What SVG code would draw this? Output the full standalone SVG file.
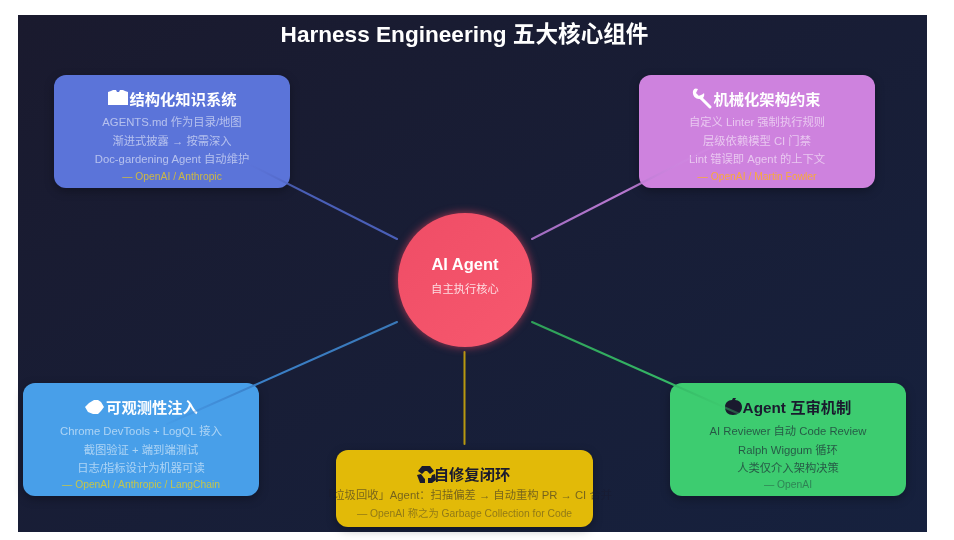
<svg xmlns="http://www.w3.org/2000/svg" width="954" height="540" viewBox="0 0 954 540">
<style>
text{font-family:"Liberation Sans","Noto Sans CJK SC",sans-serif;text-anchor:middle}
.h{font-size:15.300px;font-weight:700;fill:#fff}
.b{font-size:11.300px;fill:#fff;fill-opacity:.55}
.s{font-size:10.300px;fill:#ffd700;fill-opacity:.68}
.hd{font-size:15.300px;font-weight:700;fill:#1a1a2e}
.bd{font-size:11.300px;fill:#1a1a2e;fill-opacity:.65}
.sd{font-size:10.300px;fill:#1a1a2e;fill-opacity:.42}
.card{filter:url(#sh)}
.l{fill:none;stroke-width:2;stroke-linecap:round}
</style>
<defs>
<linearGradient id="bg" x1="0" y1="0" x2="1" y2="1"><stop offset="0" stop-color="#1a1a2e"/><stop offset="1" stop-color="#16213e"/></linearGradient>
<linearGradient id="cg" x1="0" y1="0" x2="1" y2="1"><stop offset="0" stop-color="#ef4d66"/><stop offset="1" stop-color="#f7586e"/></linearGradient>
<linearGradient id="l1" gradientUnits="userSpaceOnUse" x1="397" y1="239" x2="217" y2="148"><stop offset="0" stop-color="#4a5fb8"/><stop offset=".5" stop-color="#4a5fb8"/><stop offset="1" stop-color="#667eea" stop-opacity=".15"/></linearGradient>
<linearGradient id="l2" gradientUnits="userSpaceOnUse" x1="532" y1="239" x2="712" y2="147"><stop offset="0" stop-color="#a06cc0"/><stop offset=".5" stop-color="#b878d0"/><stop offset="1" stop-color="#d890e8" stop-opacity=".25"/></linearGradient>
<linearGradient id="l3" gradientUnits="userSpaceOnUse" x1="397" y1="322" x2="167" y2="424"><stop offset="0" stop-color="#3a78b8"/><stop offset=".6" stop-color="#3a80c8"/><stop offset="1" stop-color="#3a80d0" stop-opacity=".1"/></linearGradient>
<linearGradient id="l5" gradientUnits="userSpaceOnUse" x1="532" y1="322" x2="762" y2="424"><stop offset="0" stop-color="#2fa058"/><stop offset=".6" stop-color="#35b866"/><stop offset="1" stop-color="#40d070" stop-opacity=".1"/></linearGradient>
<filter id="sh" x="-10%" y="-15%" width="120%" height="135%" color-interpolation-filters="sRGB"><feDropShadow dx="0" dy="3" stdDeviation="5" flood-color="#000" flood-opacity=".3"/></filter>
<filter id="gl" x="-20%" y="-20%" width="140%" height="140%" color-interpolation-filters="sRGB"><feDropShadow dx="0" dy="0" stdDeviation="4" flood-color="#e94560" flood-opacity=".7"/></filter>
<filter id="soft" filterUnits="userSpaceOnUse" x="0" y="0" width="954" height="540" color-interpolation-filters="sRGB"><feGaussianBlur stdDeviation=".5"/></filter>
</defs>
<rect width="954" height="540" fill="#fff"/>
<g filter="url(#soft)">
<rect x="18" y="15" width="909" height="517" fill="url(#bg)"/>
<text x="464.500" y="42" fill="#fff" style="font-size:22.600px;font-weight:700">Harness Engineering 五大核心组件</text>

<g id="node-knowledge">
<rect class="card" x="54" y="75" width="236" height="113" rx="12" fill="#5b74d9"/>
<path fill="#fff" d="M108 92l3-1 2-1h3l1 2h2l1-2h3l2 1 3 1v13h-20z"/>
<text class="h" x="183" y="105">结构化知识系统</text>
<text class="b" x="172" y="126">AGENTS.md 作为目录/地图</text>
<text class="b" x="172" y="145">渐进式披露 → 按需深入</text>
<text class="b" x="172" y="163">Doc-gardening Agent 自动维护</text>
<text class="s" x="172" y="180">— OpenAI / Anthropic</text>
</g>
<g id="node-constraints">
<rect class="card" x="639" y="75" width="236" height="113" rx="12" fill="#ce82de"/>
<path fill="none" stroke="#fff" stroke-width="3" stroke-linecap="round" d="M700 97l10 10"/>
<path fill="#fff" d="M698 89l-2 4 3 3 4-2 1-1c1 3-1 7-5 6-3 0-7-3-6-8 1-3 3-3 5-2z"/>
<text class="h" x="767" y="105">机械化架构约束</text>
<text class="b" x="757" y="126">自定义 Linter 强制执行规则</text>
<text class="b" x="757" y="145">层级依赖模型 CI 门禁</text>
<text class="b" x="757" y="163">Lint 错误即 Agent 的上下文</text>
<text class="s" x="757" y="180" style="fill:#ffb020;fill-opacity:.85">— OpenAI / Martin Fowler</text>
</g>
<g id="node-observability">
<rect class="card" x="23" y="383" width="236" height="113" rx="12" fill="#489fe9"/>
<path fill="#fff" d="M85 407l4-4 5-3h4l3 2 3 5-3 4-3 3h-5l-5-2z"/>
<text class="h" x="152" y="413">可观测性注入</text>
<text class="b" x="141" y="435">Chrome DevTools + LogQL 接入</text>
<text class="b" x="141" y="454">截图验证 + 端到端测试</text>
<text class="b" x="141" y="472">日志/指标设计为机器可读</text>
<text class="s" x="141" y="488">— OpenAI / Anthropic / LangChain</text>
</g>
<g id="node-selfrepair">
<rect class="card" x="336" y="450" width="257" height="77" rx="12" fill="#e2ba08"/>
<path fill="#1a1a2e" d="M422 466h8l4 5-4 3-3-3h-2l-3 3-4-3zM417 475l4-1 3 4 1 1v4h-5zM435 474l1 6-4 3h-4v-5h3l1-3z"/>
<text class="hd" x="472" y="480">自修复闭环</text>
<text class="bd" x="467" y="499" style="fill-opacity:.55">「垃圾回收」Agent：扫描偏差 → 自动重构 PR → CI 合并</text>
<text class="sd" x="464.500" y="517">— OpenAI 称之为 Garbage Collection for Code</text>
</g>
<g id="node-review">
<rect class="card" x="670" y="383" width="236" height="113" rx="12" fill="#3dcc70"/>
<path fill="#1a1a2e" d="M733 398h3l-1 2c4 0 7 3 7 7 0 5-4 8-9 8s-8-3-8-8c0-4 3-7 7-7z"/>
<text class="hd" x="797" y="413">Agent 互审机制</text>
<text class="bd" x="788" y="435">AI Reviewer 自动 Code Review</text>
<text class="bd" x="788" y="454">Ralph Wiggum 循环</text>
<text class="bd" x="788" y="472">人类仅介入架构决策</text>
<text class="sd" x="788" y="488">— OpenAI</text>
</g>
<g id="connectors">
<line class="l" x1="397" y1="239" x2="217" y2="148" stroke="url(#l1)"/>
<line class="l" x1="532" y1="239" x2="712" y2="147" stroke="url(#l2)"/>
<line class="l" x1="397" y1="322" x2="167" y2="424" stroke="url(#l3)"/>
<line class="l" x1="532" y1="322" x2="762" y2="424" stroke="url(#l5)"/>
<line class="l" x1="464.500" y1="352" x2="464.500" y2="444" stroke="#b8980f"/>
</g>
<g id="node-agent">
<circle cx="465" cy="280" r="67" fill="url(#cg)" filter="url(#gl)"/>
<text x="465" y="270" style="font-size:16.500px;font-weight:700" fill="#fff">AI Agent</text>
<text x="465" y="293" style="font-size:11.300px" fill="#fff" fill-opacity=".8">自主执行核心</text>
</g>
</g>
</svg>
